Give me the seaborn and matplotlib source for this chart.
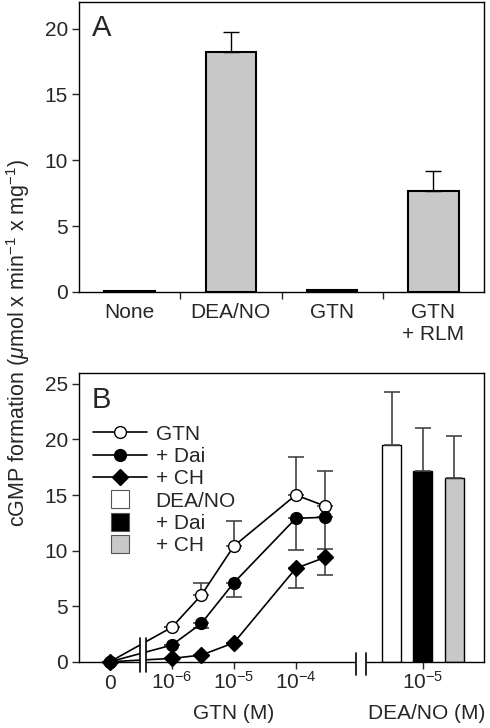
import matplotlib
matplotlib.use("Agg")
import matplotlib.pyplot as plt
import matplotlib.transforms as mtransforms
from matplotlib.lines import Line2D
from matplotlib.patches import Rectangle
import numpy as np
import seaborn as sns

# panel A: cGMP formation, single conditions
A_LABELS = ["None", "DEA/NO", "GTN", "GTN\n+ RLM"]
A_VALUES = [0.1, 18.2, 0.15, 7.7]
A_ERR_UP = [0.0, 1.5, 0.0, 1.5]

# panel B: GTN concentration-response curves
B_CONC = [0, 1e-6, 3e-6, 1e-5, 1e-4, 3e-4]
GTN_VALUES = [0.0, 3.1, 6.0, 10.4, 15.0, 14.0]
GTN_ERR_UP = [0.0, 0.0, 1.1, 2.3, 3.4, 3.2]
DAI_VALUES = [0.0, 1.5, 3.45, 7.1, 12.9, 13.0]
DAI_ERR_DOWN = [0.0, 0.0, 0.4, 1.3, 2.85, 2.9]
CH_VALUES = [0.0, 0.3, 0.6, 1.7, 8.4, 9.4]
CH_ERR_DOWN = [0.0, 0.0, 0.0, 0.0, 1.8, 1.6]

# panel B: DEA/NO 10^-5 M bars
DEA_LABELS = ["DEA/NO", "+ Dai", "+ CH"]
DEA_VALUES = [19.5, 17.2, 16.5]
DEA_ERR_UP = [4.75, 3.85, 3.85]

# layout (log10 axis positions, zero concentration drawn at 10^-7)
ZERO_POS = -7
BAR_POS = [-2.45, -1.95, -1.44]
BAR_COLORS = ["white", "black", "#c8c8c8"]
FS = 15

sns.set_theme(style="ticks")
plt.rcParams["font.family"] = ["Liberation Sans", "DejaVu Sans"]
plt.rcParams["mathtext.fontset"] = "custom"
plt.rcParams["mathtext.rm"] = "Liberation Sans"
plt.rcParams["mathtext.it"] = "Liberation Sans:italic"
plt.rcParams["axes.linewidth"] = 1.0
plt.rcParams["xtick.major.width"] = 1.0
plt.rcParams["ytick.major.width"] = 1.0
plt.rcParams["xtick.minor.width"] = 1.0

fig = plt.figure(figsize=(4.9, 7.28), dpi=100)
axA = fig.add_axes([0.161, 0.599, 0.827, 0.398])
axB = fig.add_axes([0.161, 0.091, 0.827, 0.397])

# ---- panel A ----
sns.barplot(x=A_LABELS, y=A_VALUES, color="#c8c8c8", edgecolor="black",
            linewidth=1.5, width=0.5, saturation=1, ax=axA)
idx = [i for i, e in enumerate(A_ERR_UP) if e > 0]
axA.errorbar(idx, [A_VALUES[i] for i in idx],
             yerr=[[0] * len(idx), [A_ERR_UP[i] for i in idx]],
             fmt="none", ecolor="black", elinewidth=1, capsize=5.5, capthick=1, zorder=1)
axA.set_xlim(-0.5, 3.5)
axA.set_ylim(0, 22)
axA.set_yticks([0, 5, 10, 15, 20])
axA.set_xticks([0.5, 1.5, 2.5], minor=True)
axA.tick_params(axis="x", which="major", length=0, labelsize=FS, pad=8)
axA.tick_params(axis="x", which="minor", length=5, direction="out")
axA.tick_params(axis="y", length=5, labelsize=FS, pad=3)
axA.set_xlabel("")
axA.set_ylabel("")
axA.text(0.032, 0.96, "A", transform=axA.transAxes, fontsize=21, va="top", ha="left")
for s in axA.spines.values():
    s.set_visible(True)
    s.set_color("black")

# ---- panel B ----
conc = np.array(B_CONC, dtype=float)
xpos = np.full(conc.shape, float(ZERO_POS))
xpos[conc > 0] = np.log10(conc[conc > 0])

line_kw = dict(color="black", linewidth=1.2, markeredgecolor="black",
               markeredgewidth=1, clip_on=False, zorder=3, ax=axB)
sns.lineplot(x=xpos, y=GTN_VALUES, marker="o", markersize=8.5, markerfacecolor="white", **line_kw)
sns.lineplot(x=xpos, y=DAI_VALUES, marker="o", markersize=8.5, markerfacecolor="black", **line_kw)
sns.lineplot(x=xpos, y=CH_VALUES, marker="D", markersize=8, markerfacecolor="black", **line_kw)

err_kw = dict(fmt="none", ecolor="#444444", elinewidth=1.2, capsize=5.5, capthick=1.2, zorder=2)
z = np.zeros(len(xpos))
axB.errorbar(xpos, GTN_VALUES, yerr=[z, GTN_ERR_UP], **err_kw)
axB.errorbar(xpos, DAI_VALUES, yerr=[DAI_ERR_DOWN, z], **err_kw)
axB.errorbar(xpos, CH_VALUES, yerr=[CH_ERR_DOWN, z], **err_kw)

for x, v, e, c in zip(BAR_POS, DEA_VALUES, DEA_ERR_UP, BAR_COLORS):
    axB.bar(x, v, width=0.31, color=c, edgecolor="black", linewidth=1, zorder=2)
    axB.errorbar([x], [v], yerr=[[0], [e]], **err_kw)

axB.set_xlim(-7.5, -0.96)
axB.set_ylim(0, 26)
axB.set_yticks([0, 5, 10, 15, 20, 25])
axB.set_xticks([ZERO_POS, -6, -5, -4, BAR_POS[1]])
axB.set_xticklabels(["0", "10$^{-6}$", "10$^{-5}$", "10$^{-4}$", "10$^{-5}$"])
axB.tick_params(axis="x", length=5, labelsize=FS, pad=14.5)
axB.tick_params(axis="y", length=5, labelsize=FS, pad=3)
for t in axB.get_xticklabels():
    t.set_verticalalignment("baseline")
for s in axB.spines.values():
    s.set_visible(True)
    s.set_color("black")

# axis breaks
for x0, x1, y0, y1 in [(-6.51, -6.41, -0.95, 2.15), (-3.02, -2.87, -1.2, 0.8)]:
    axB.add_patch(Rectangle((x0, y0), x1 - x0, y1 - y0, facecolor="white",
                            edgecolor="none", clip_on=False, zorder=4))
    for xb in (x0, x1):
        axB.plot([xb, xb], [y0, y1], color="black", lw=1.2, clip_on=False, zorder=5)

trans = mtransforms.blended_transform_factory(axB.transData, axB.transAxes)
axB.text(-5.01, -0.18, "GTN (M)", transform=trans, ha="center", va="center", fontsize=FS)
axB.text(-1.88, -0.18, "DEA/NO (M)", transform=trans, ha="center", va="center", fontsize=FS)
axB.text(0.032, 0.955, "B", transform=axB.transAxes, fontsize=21, va="top", ha="left")

handles = [
    Line2D([], [], color="black", lw=1.2, marker="o", markersize=8.5,
           markerfacecolor="white", markeredgecolor="black"),
    Line2D([], [], color="black", lw=1.2, marker="o", markersize=8.5,
           markerfacecolor="black", markeredgecolor="black"),
    Line2D([], [], color="black", lw=1.2, marker="D", markersize=8,
           markerfacecolor="black", markeredgecolor="black"),
]
for c in BAR_COLORS:
    handles.append(Line2D([], [], linestyle="none", marker="s", markersize=12.5,
                          markerfacecolor=c, markeredgecolor="#555555", markeredgewidth=0.8))
axB.legend(handles, ["GTN", "+ Dai", "+ CH"] + DEA_LABELS, loc="upper left",
           bbox_to_anchor=(0.035, 0.82), frameon=False, fontsize=FS,
           handlelength=2.6, handletextpad=0.4, labelspacing=0.16,
           borderpad=0, borderaxespad=0)

fig.text(0.037, 0.529, "cGMP formation ($\\mu$mol x min$^{-1}$ x mg$^{-1}$)",
         rotation=90, ha="center", va="center", fontsize=15.5)

fig.savefig("out.png", dpi=100)
